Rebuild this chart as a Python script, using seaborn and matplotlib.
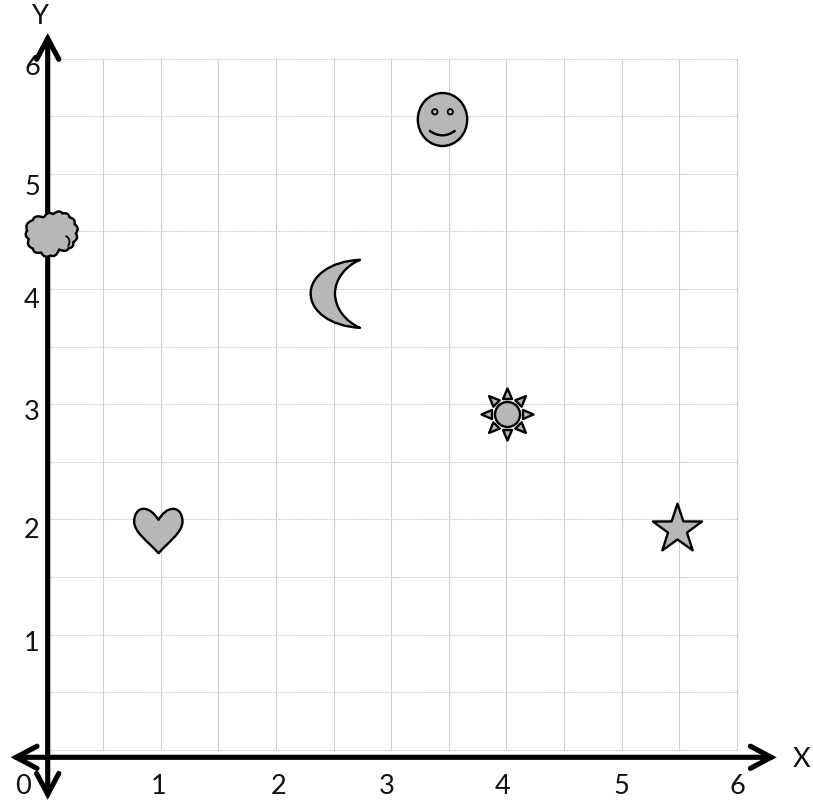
import numpy as np
import matplotlib
matplotlib.use("Agg")
import matplotlib.pyplot as plt
from matplotlib.path import Path
from matplotlib.transforms import ScaledTranslation
import seaborn as sns

# tick text
x_labels = ["0", "1", "2", "3", "4", "5", "6"]
y_labels = ["1", "2", "3", "4", "5", "6"]

# where each shape sits
heart_xy = ([0.98], [1.91])
star_xy = ([5.48], [1.92])
sun_xy = ([4.005], [2.91])
moon_xy = ([2.515], [3.965])
face_xy = ([3.44], [5.475])
cloud_xy = ([0.045], [4.475])

# layout, the printed numbers are not quite on the grid
x_label_pos = [0, 0.98, 2.02, 2.96, 3.97, 5.0, 6.0]
y_label_pos = [0.95, 1.93, 2.96, 3.93, 4.91, 5.95]
grid_pos = np.arange(0, 6.5, 0.5)
W, H = 813, 803
GREY = "#b7b7b7"

sns.set_theme(style="white")
plt.rcParams["font.family"] = ["Lato", "DejaVu Sans"]


def curves(points, cx, cy, close=True):
    # points from a 3x zoom: start point, then 3 points for each bezier
    verts = [((px - cx) / 3, (cy - py) / 3) for px, py in points]
    codes = [Path.MOVETO] + [Path.CURVE4] * (len(verts) - 1)
    if close:
        verts.append(verts[0])
        codes.append(Path.CLOSEPOLY)
    return Path(verts, codes)


def circle(cx, cy, rx, ry=None):
    c = Path.unit_circle()
    return Path(c.vertices * [rx, ry or rx] + [cx, cy], c.codes)


def polygon(pts):
    pts = list(pts) + [pts[0]]
    return Path(pts, [Path.MOVETO] + [Path.LINETO] * (len(pts) - 2) + [Path.CLOSEPOLY])


def star_path(r_out=25.8, r_in=10.0):
    ang = np.pi / 2 + np.arange(10) * np.pi / 5
    rad = np.where(np.arange(10) % 2 == 0, r_out, r_in)
    return polygon(list(zip(rad * np.cos(ang), rad * np.sin(ang))))


def sun_path():
    parts = [circle(0, 0, 12.5)]
    for a in np.arange(8) * np.pi / 4:
        rot = np.array([[np.cos(a), -np.sin(a)], [np.sin(a), np.cos(a)]])
        tri = np.array([[0, 26], [4.5, 15.5], [-4.5, 15.5]]) @ rot.T
        parts.append(polygon([tuple(p) for p in tri]))
    return Path.make_compound_path(*parts)


def cloud_path():
    notches = [(130, 652), (158, 642), (186, 640), (207, 652), (222, 672), (226, 700),
               (218, 726), (203, 745), (176, 748), (150, 766), (122, 757), (97, 745),
               (85, 717), (80, 692), (97, 660)]
    cx, cy = 153, 703
    pts = (np.array(notches, float) - [cx, cy]) * [1, -1] / 3
    verts = [pts[0]]
    codes = [Path.MOVETO]
    for i in range(len(pts)):
        a, b = pts[i], pts[(i + 1) % len(pts)]
        mid = (a + b) / 2
        out = mid / np.linalg.norm(mid)
        verts += [mid + out * np.linalg.norm(b - a) * 0.55, b]
        codes += [Path.CURVE3, Path.CURVE3]
    return Path(verts, codes)


heart = curves([(143, 90), (130, 70), (115, 57), (98, 57), (80, 57), (70, 75), (70, 95),
                (70, 128), (112, 155), (143, 190), (174, 155), (215, 128), (215, 95),
                (215, 75), (205, 57), (187, 57), (170, 57), (155, 70), (143, 90)], 143, 122)
moon = curves([(210, 541), (120, 545), (62, 590), (62, 642), (62, 695), (120, 740), (210, 745),
               (165, 725), (135, 685), (135, 642), (135, 600), (165, 560), (210, 541)], 136.5, 642)
eyes = Path.make_compound_path(circle(-7.7, 7.7, 2.7), circle(7.8, 7.7, 2.7))
smile = curves([(415, 152), (440, 172), (470, 172), (494, 152)], 453.5, 118, close=False)
curl = curves([(198, 708), (212, 715), (212, 728), (205, 740)], 153, 703, close=False)


def draw(path, xy, ax, filled=True, lw=1.7, z=5):
    # scatter rescales a path marker by its largest coordinate
    s = (2 * np.abs(path.vertices).max() * 72 / 100) ** 2
    if filled:
        sns.scatterplot(x=xy[0], y=xy[1], marker=path, s=s, color=GREY, edgecolor="black",
                        linewidth=lw, zorder=z, ax=ax, clip_on=False)
    else:
        sns.scatterplot(x=xy[0], y=xy[1], marker=path, s=s, facecolor="none", edgecolor="black",
                        linewidth=lw, zorder=z, ax=ax, clip_on=False)


fig = plt.figure(figsize=(W / 100, H / 100), dpi=100)
ax = fig.add_axes([45.4 / W, (H - 750.7) / H, 691.6 / W, 691.2 / H])

draw(heart, heart_xy, ax)
draw(star_path(), star_xy, ax)
draw(sun_path(), sun_xy, ax)
draw(moon, moon_xy, ax)
draw(circle(0, 0, 24.7, 26.5), face_xy, ax)
draw(eyes, face_xy, ax, lw=1.3, z=6)
draw(smile, face_xy, ax, filled=False, z=6)
draw(cloud_path(), cloud_xy, ax, z=7)
draw(curl, cloud_xy, ax, filled=False, lw=1.3, z=8)

# minor ticks on top of a major one get dropped otherwise
ax.xaxis.remove_overlapping_locs = False
ax.yaxis.remove_overlapping_locs = False
ax.set_xticks(x_label_pos, x_labels)
ax.set_yticks(y_label_pos, y_labels)
ax.set_xticks(grid_pos, minor=True)
ax.set_yticks(grid_pos, minor=True)
ax.set_xlim(0, 6)
ax.set_ylim(0, 6)
ax.tick_params(which="both", length=0)
ax.tick_params(axis="x", which="major", labelsize=19.5, pad=17, colors="#111111")
ax.tick_params(axis="y", which="major", labelsize=19.5, pad=4, colors="#111111")
ax.grid(False, which="major")
ax.xaxis.grid(True, which="minor", color="#cfcfcf", linewidth=0.8)
ax.yaxis.grid(True, which="minor", color="#cfcfcf", linewidth=0.8, linestyle=(0, (1.5, 0.8)))
ax.set_axisbelow(True)
sns.despine(ax=ax, left=True, bottom=True)
# outer grid lines lie on the axes edge
for tick in ax.xaxis.get_minor_ticks() + ax.yaxis.get_minor_ticks():
    tick.gridline.set_clip_on(False)

# the 0 sits left of the vertical axis
zero = ax.get_xticklabels()[0]
zero.set_transform(zero.get_transform() + ScaledTranslation(-22 / 100, 0, fig.dpi_scale_trans))

ax.set_xlabel("X", fontsize=19.5, color="#111111")
ax.set_ylabel("Y", fontsize=19.5, color="#111111", rotation=0)
ax.xaxis.set_label_coords((802 - 45.4) / 691.6, (750.7 - 760) / 691.2)
ax.yaxis.set_label_coords((40 - 45.4) / 691.6, (750.7 - 17) / 691.2)
ax.xaxis.label.set_verticalalignment("center")
ax.yaxis.label.set_verticalalignment("center")
ax.yaxis.label.set_horizontalalignment("center")

arrow = dict(arrowstyle="<->,head_length=15,head_width=8", mutation_scale=1, lw=3.7, color="black",
             shrinkA=0, shrinkB=0, capstyle="round", joinstyle="miter", clip_on=False)
ax.annotate("", xy=(6.344, -0.066), xytext=(-0.301, -0.066), arrowprops=arrow,
            zorder=4, annotation_clip=False)
ax.annotate("", xy=(0.02, 6.221), xytext=(0.02, -0.434), arrowprops=arrow,
            zorder=4, annotation_clip=False)

fig.savefig("out.png", dpi=100)
